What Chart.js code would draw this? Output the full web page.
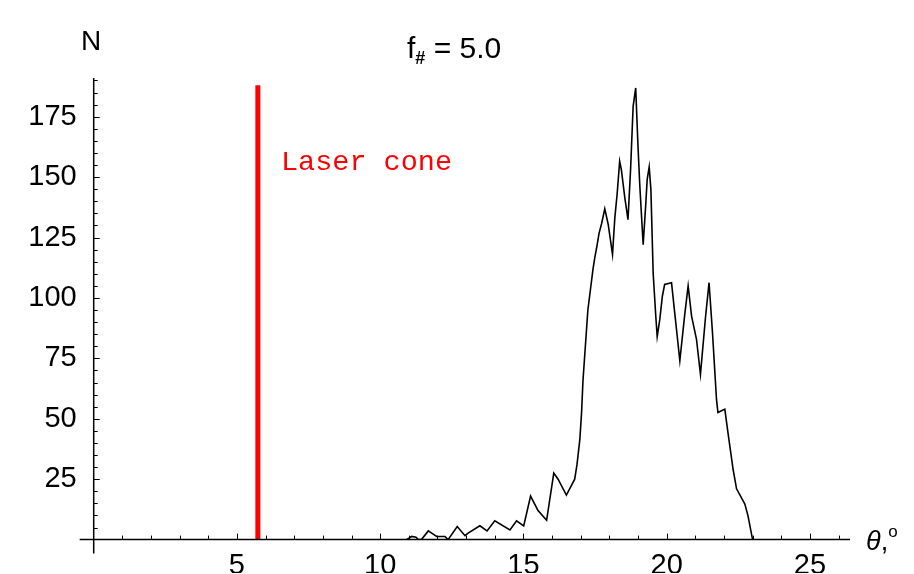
<!DOCTYPE html>
<html>
<head>
<meta charset="utf-8">
<script src="https://cdn.jsdelivr.net/npm/chart.js@4/dist/chart.umd.min.js"></script>
<style>
  html, body { margin: 0; padding: 0; background: #fff; }
  #wrap { width: 914px; height: 574px; }
</style>
</head>
<body>
<div id="wrap"><canvas id="c" width="914" height="574"></canvas></div>
<script>
// ---- data ----
const angles = [10.92, 11.10, 11.25, 11.33, 11.44, 11.68, 11.85, 11.97, 12.26, 12.37,
  12.69, 12.96, 13.07, 13.48, 13.73, 14.00, 14.53, 14.76, 15.01, 15.25,
  15.51, 15.81, 16.06, 16.21, 16.50, 16.79, 16.87, 16.97, 17.03, 17.08,
  17.25, 17.43, 17.49, 17.57, 17.64, 17.73, 17.84, 17.96, 18.11, 18.19,
  18.27, 18.36, 18.42, 18.54, 18.65, 18.74, 18.83, 18.92, 19.00, 19.06,
  19.18, 19.27, 19.32, 19.39, 19.45, 19.53, 19.62, 19.67, 19.76, 19.85,
  19.93, 20.17, 20.28, 20.46, 20.63, 20.75, 20.87, 21.04, 21.18, 21.36,
  21.48, 21.60, 21.74, 21.79, 22.03, 22.14, 22.32, 22.44, 22.73, 22.84, 23.00];
const counts = [0, 1.3, 1, 0, 0, 3.6, 2.3, 1.3, 1.3, 0,
  5.4, 1.6, 2.7, 5.7, 3.6, 7.8, 4.0, 7.8, 5.7, 18,
  12, 8, 27.5, 25, 18.4, 25, 31, 41.5, 52.6, 66,
  95, 112, 116.6, 121.7, 126.7, 130.8, 136.9, 130.4, 118, 133,
  142.8, 156.5, 153, 141.4, 132.4, 153, 179.3, 186.9, 162.7, 147,
  122, 138.6, 149, 154.2, 144.8, 110, 92.5, 84, 91, 100.7,
  105.6, 106.3, 94, 74, 93, 105, 92.5, 83, 68.4, 92.5,
  106.3, 85.6, 58, 52.6, 54, 44.3, 29, 21, 14.7, 9.8, 0];
const laserAngle = 5.73;
const laserTop = 188;
const laserLabel = "Laser cone";
const xTicks = [5, 10, 15, 20, 25];
const yTicks = [25, 50, 75, 100, 125, 150, 175];
const xRange = [0, 26.4];
const yRange = [0, 191];
const titleMain = "f";
const titleSub = "#";
const titleRest = " = 5.0";
const yAxisLabel = "N";
const xAxisLabel = "θ";

const SANS = '"Liberation Sans", Arial, sans-serif';

const axesPlugin = {
  id: 'mathAxes',
  afterDraw(chart) {
    const ctx = chart.ctx;
    const xs = chart.scales.x, ys = chart.scales.y;
    const x0 = xs.getPixelForValue(0), y0 = ys.getPixelForValue(0);
    ctx.save();
    ctx.strokeStyle = '#000';
    ctx.lineWidth = 1.5;
    ctx.beginPath();
    ctx.moveTo(x0 - 14, y0); ctx.lineTo(xs.right, y0);
    ctx.moveTo(x0, ys.top); ctx.lineTo(x0, y0 + 14);
    ctx.stroke();
    ctx.lineWidth = 1;
    ctx.beginPath();
    for (let v = 1; v <= Math.floor(xRange[1]); v++) {
      const px = Math.round(xs.getPixelForValue(v)) + 0.5;
      const len = (v % 5 === 0) ? 6 : 4;
      ctx.moveTo(px, y0); ctx.lineTo(px, y0 - len);
    }
    for (let v = 5; v <= yRange[1]; v += 5) {
      const py = Math.round(ys.getPixelForValue(v)) + 0.5;
      const len = (v % 25 === 0) ? 6 : 4;
      ctx.moveTo(x0, py); ctx.lineTo(x0 + len, py);
    }
    ctx.stroke();
    ctx.fillStyle = '#000';
    ctx.textBaseline = 'alphabetic';
    ctx.textAlign = 'left';
    // N label
    ctx.font = '28px ' + SANS;
    ctx.fillText(yAxisLabel, 81, 50);
    // title
    let tx = 407, ty = 58;
    ctx.font = '30px ' + SANS;
    ctx.fillText(titleMain, tx, ty);
    tx += ctx.measureText(titleMain).width;
    ctx.font = 'bold 18px ' + SANS;
    ctx.fillText(titleSub, tx, ty + 6);
    tx += ctx.measureText(titleSub).width;
    ctx.font = '30px ' + SANS;
    ctx.fillText(titleRest, tx, ty);
    // theta label
    ctx.font = 'italic 27px ' + SANS;
    ctx.fillText(xAxisLabel, 866, 550);
    let thx = 866 + ctx.measureText(xAxisLabel).width;
    ctx.font = '27px ' + SANS;
    ctx.fillText(',', thx, 550);
    thx += ctx.measureText(',').width;
    ctx.font = '17px ' + SANS;
    ctx.fillText('o', thx, 537);
    // Laser cone label
    ctx.fillStyle = '#ff0000';
    ctx.font = '28.5px "Liberation Mono", "Courier New", monospace';
    ctx.textBaseline = 'middle';
    ctx.fillText(laserLabel, 281, 162);
    ctx.restore();
  }
};

new Chart(document.getElementById('c'), {
  type: 'scatter',
  data: {
    datasets: [
      {
        data: angles.map((a, i) => ({ x: a, y: counts[i] })),
        showLine: true,
        borderColor: '#000',
        borderWidth: 1.6,
        pointRadius: 0,
        tension: 0,
        fill: false
      },
      {
        data: [{ x: laserAngle, y: 0 }, { x: laserAngle, y: laserTop }],
        showLine: true,
        borderColor: '#ff0000',
        borderWidth: 5,
        pointRadius: 0,
        fill: false
      }
    ]
  },
  options: {
    responsive: false,
    animation: false,
    layout: { padding: { top: 78, right: 64, left: 0, bottom: 0 } },
    plugins: { legend: { display: false }, tooltip: { enabled: false }, title: { display: false } },
    scales: {
      x: {
        type: 'linear',
        min: xRange[0], max: xRange[1],
        afterFit(s) { s.height = 33.5; },
        afterBuildTicks(s) { s.ticks = xTicks.map(v => ({ value: v })); },
        grid: { display: false, drawTicks: false },
        border: { display: false },
        ticks: { color: '#000', font: { family: SANS, size: 29 }, padding: 9, maxRotation: 0, autoSkip: false }
      },
      y: {
        type: 'linear',
        min: yRange[0], max: yRange[1],
        afterFit(s) { s.width = 93.7; },
        afterBuildTicks(s) { s.ticks = yTicks.map(v => ({ value: v })); },
        grid: { display: false, drawTicks: false },
        border: { display: false },
        ticks: { color: '#000', font: { family: SANS, size: 29 }, padding: 17, autoSkip: false }
      }
    }
  },
  plugins: [axesPlugin]
});
</script>
</body>
</html>
